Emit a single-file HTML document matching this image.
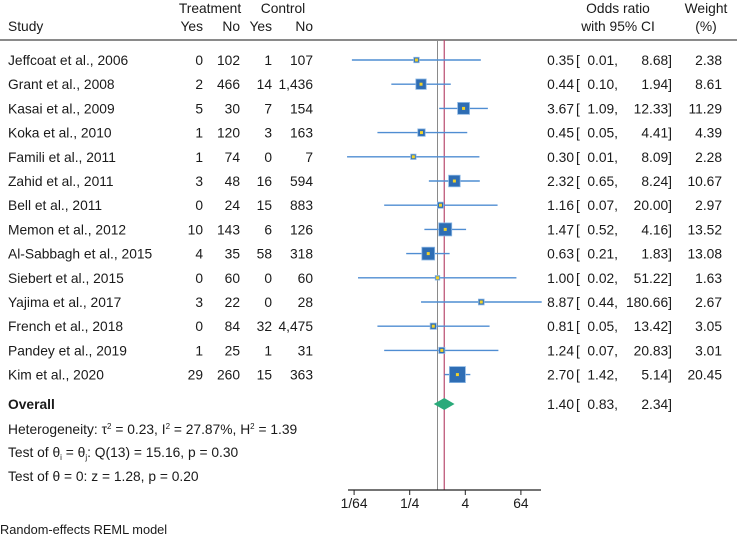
<!DOCTYPE html>
<html><head><meta charset="utf-8">
<style>
html,body{margin:0;padding:0;background:#fff;}
svg{display:block;font-family:"Liberation Sans",Arial,sans-serif;font-size:13.8px;fill:#1a1a1a;}
</style></head>
<body>
<svg id="fp" width="737" height="539" viewBox="0 0 737 539">
<g>
<text x="210" y="13" text-anchor="middle">Treatment</text>
<text x="283" y="13" text-anchor="middle">Control</text>
<text x="8" y="31">Study</text>
<text x="203" y="31" text-anchor="end">Yes</text>
<text x="240" y="31" text-anchor="end">No</text>
<text x="272" y="31" text-anchor="end">Yes</text>
<text x="313" y="31" text-anchor="end">No</text>
<text x="618" y="13" text-anchor="middle">Odds ratio</text>
<text x="618" y="31" text-anchor="middle">with 95% CI</text>
<text x="706" y="13" text-anchor="middle">Weight</text>
<text x="706" y="31" text-anchor="middle">(%)</text>
<line x1="0" y1="40" x2="737" y2="40" stroke="#444" stroke-width="1.2"/>
</g>
<g id="rows"></g>
<g id="marks"></g>
<g>
<text x="8" y="409" font-weight="bold">Overall</text>
<text x="8" y="434">Heterogeneity: τ<tspan dy="-5" font-size="8">2</tspan><tspan dy="5"> = 0.23, I</tspan><tspan dy="-5" font-size="8">2</tspan><tspan dy="5"> = 27.87%, H</tspan><tspan dy="-5" font-size="8">2</tspan><tspan dy="5"> = 1.39</tspan></text>
<text x="8" y="457">Test of θ<tspan dy="3" font-size="8">i</tspan><tspan dy="-3"> = θ</tspan><tspan dy="3" font-size="8">j</tspan><tspan dy="-3">: Q(13) = 15.16, p = 0.30</tspan></text>
<text x="8" y="481">Test of θ = 0: z = 1.28, p = 0.20</text>
<text x="0" y="534" font-size="12.8">Random-effects REML model</text>
</g>
</svg>
<script>
const studies=["Jeffcoat et al., 2006","Grant et al., 2008","Kasai et al., 2009","Koka et al., 2010","Famili et al., 2011","Zahid et al., 2011","Bell et al., 2011","Memon et al., 2012","Al-Sabbagh et al., 2015","Siebert et al., 2015","Yajima et al., 2017","French et al., 2018","Pandey et al., 2019","Kim et al., 2020"];
const tYes=["0","2","5","1","1","3","0","10","4","0","3","0","1","29"];
const tNo=["102","466","30","120","74","48","24","143","35","60","22","84","25","260"];
const cYes=["1","14","7","3","0","16","15","6","58","0","0","32","1","15"];
const cNo=["107","1,436","154","163","7","594","883","126","318","60","28","4,475","31","363"];
const orVal=[0.35,0.44,3.67,0.45,0.30,2.32,1.16,1.47,0.63,1.00,8.87,0.81,1.24,2.70];
const ciLow=[0.014,0.10,1.09,0.05,0.011,0.65,0.07,0.52,0.21,0.019,0.44,0.05,0.07,1.42];
const ciHigh=[8.68,1.94,12.33,4.41,8.09,8.24,20.00,4.16,1.83,51.22,180.66,13.42,20.83,5.14];
const lowText=["0.01","0.10","1.09","0.05","0.01","0.65","0.07","0.52","0.21","0.02","0.44","0.05","0.07","1.42"];
const weights=[2.38,8.61,11.29,4.39,2.28,10.67,2.97,13.52,13.08,1.63,2.67,3.05,3.01,20.45];
const overall=[1.40,0.83,2.34];
const tickVals=[1/64,1/4,4,64];
const tickLabels=["1/64","1/4","4","64"];

const NS="http://www.w3.org/2000/svg";
const x=v=>437.5+13.9*Math.log2(v);
const rowY=i=>60+24.2*i;
function mk(tag,attrs,parent,txt){const e=document.createElementNS(NS,tag);for(const k in attrs)e.setAttribute(k,attrs[k]);if(txt!==undefined)e.textContent=txt;parent.appendChild(e);return e;}
const rows=document.getElementById('rows'),marks=document.getElementById('marks');

let l=mk('line',{x1:x(1),x2:x(1),y1:40,y2:490,stroke:'#8a8a8a','stroke-width':1},marks);


l=mk('line',{x1:x(overall[0]),x2:x(overall[0]),y1:40,y2:490,stroke:'#b84a6e','stroke-width':1.2},marks);



function ciText(y,est,lo,hi,prefix){
  let o=mk('text',{x:574,y:y,'text-anchor':'end'},rows,est);
  
  
  o=mk('text',{x:576,y:y},rows,'[');
  
  
  o=mk('text',{x:618,y:y,'text-anchor':'end'},rows,lo+',');
  
  
  o=mk('text',{x:672,y:y,'text-anchor':'end'},rows,hi+']');
  
  
}

studies.forEach((s,i)=>{
  const y=rowY(i),ty=y+5;
  let t=mk('text',{x:8,y:ty},rows,s);
  
  
  [[tYes,203],[tNo,240],[cYes,272],[cNo,313]].forEach(([arr,xx])=>{
    const c=mk('text',{x:xx,y:ty,'text-anchor':'end'},rows,arr[i]);
    
    
  });
  ciText(ty,orVal[i].toFixed(2),lowText[i],ciHigh[i].toFixed(2),'');
  const w=mk('text',{x:722,y:ty,'text-anchor':'end'},rows,weights[i].toFixed(2));
  
  
  const ci=mk('line',{x1:x(ciLow[i]),x2:x(ciHigh[i]),y1:y,y2:y,stroke:'#4f8dd2','stroke-width':1.4},marks);
  
  
  const side=16*Math.sqrt(weights[i]/20.45);
  const sq=mk('rect',{x:x(orVal[i])-side/2,y:y-side/2,width:side,height:side,fill:'#2e6db4',stroke:'#8ab6e3','stroke-width':0.8},marks);
  
  
  const dot=mk('rect',{x:x(orVal[i])-1.5,y:y-1.5,width:3,height:3,fill:'#f2d22a'},marks);
  
  
});

const oy=404;
const dm=mk('polygon',{points:`${x(overall[1])},${oy} ${x(overall[0])},${oy-6} ${x(overall[2])},${oy} ${x(overall[0])},${oy+6}`,fill:'#2aaa7a'},marks);


ciText(oy+5,overall[0].toFixed(2),overall[1].toFixed(2),overall[2].toFixed(2),'overall-');

const ax=mk('line',{x1:348,x2:541,y1:490,y2:490,stroke:'#222','stroke-width':1.2},marks);


tickVals.forEach((v,i)=>{
  const tk=mk('line',{x1:x(v),x2:x(v),y1:490,y2:495,stroke:'#222','stroke-width':1},marks);
  
  
  const tl=mk('text',{x:x(v),y:508,'text-anchor':'middle'},marks,tickLabels[i]);
  
  
});
</script>
</body></html>
